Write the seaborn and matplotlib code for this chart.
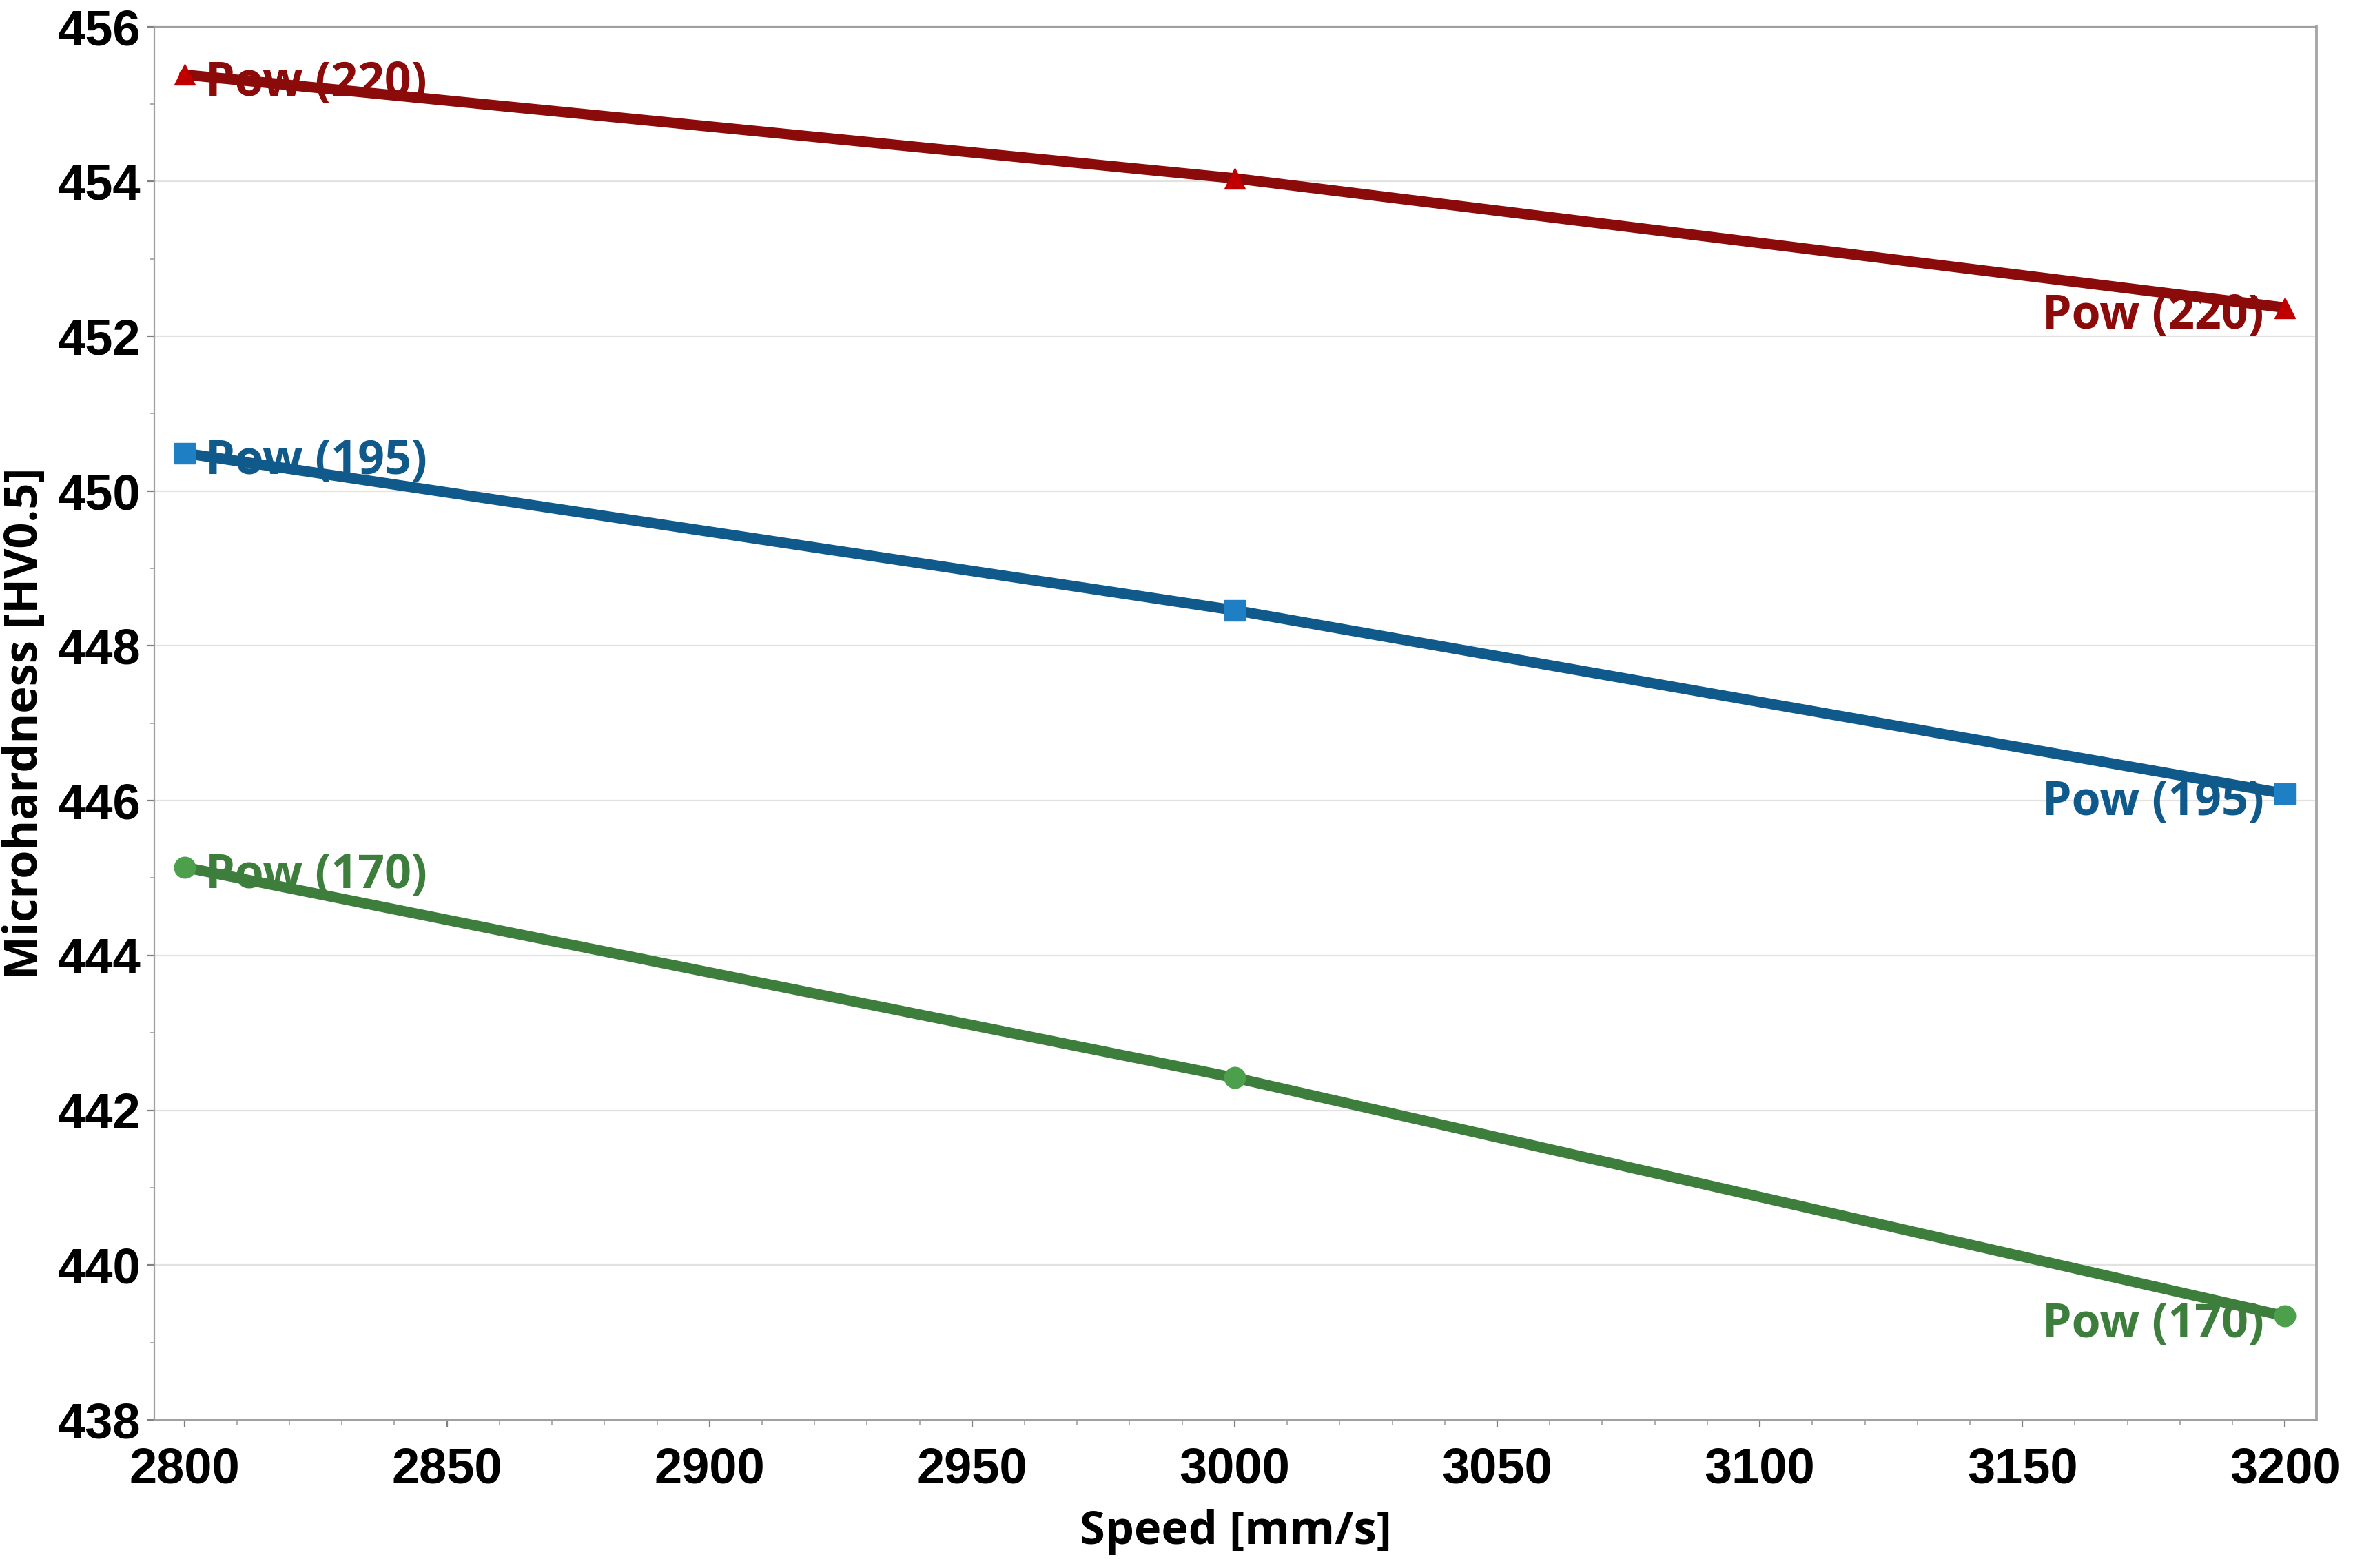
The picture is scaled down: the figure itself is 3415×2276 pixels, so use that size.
import pandas as pd
import numpy as np
import matplotlib
matplotlib.use("Agg")
import matplotlib.pyplot as plt
import seaborn as sns
from matplotlib.ticker import MultipleLocator

# data
speed = [2800, 3000, 3200]
pow_220 = [455.38, 454.04, 452.37]
pow_195 = [450.49, 448.46, 446.09]
pow_170 = [445.14, 442.42, 439.34]
series_names = ["Pow (220)", "Pow (195)", "Pow (170)"]

line_colors = ["#8B0A0A", "#0F5A8A", "#3E7E3C"]
marker_colors = ["#C00000", "#1F7FC4", "#4CA04C"]
marker_shapes = ["^", "s", "o"]

df = pd.DataFrame({
    "speed": speed * 3,
    "hardness": pow_220 + pow_195 + pow_170,
    "power": np.repeat(series_names, len(speed)),
})

sns.set_theme(style="white")
plt.rcParams["font.family"] = ["Liberation Sans", "DejaVu Sans"]
label_font = ["Open Sans", "DejaVu Sans"]

fig = plt.figure(figsize=(17.08, 11.38), dpi=200)
ax = fig.add_axes([0.0656, 0.0945, 0.9186, 0.8885])

for name, lc, mc, mk in zip(series_names, line_colors, marker_colors, marker_shapes):
    sub = df[df["power"] == name]
    sns.lineplot(data=sub, x="speed", y="hardness", color=lc, lw=5.5, marker=mk,
                 markersize=11, markerfacecolor=mc, markeredgecolor=mc,
                 markeredgewidth=0.5, ax=ax, zorder=3)
    x0, y0 = sub["speed"].iloc[0], sub["hardness"].iloc[0]
    x1, y1 = sub["speed"].iloc[-1], sub["hardness"].iloc[-1]
    ax.annotate(name, (x0, y0), xytext=(11, -4.5), textcoords="offset points",
                ha="left", va="center", color=lc, fontsize=24.5, fontweight="bold",
                family=label_font, zorder=4)
    ax.annotate(name, (x1, y1), xytext=(-11, -4.5), textcoords="offset points",
                ha="right", va="center", color=lc, fontsize=24.5, fontweight="bold",
                family=label_font, zorder=4)

ax.set_xlim(2794.3, 3206)
ax.set_ylim(438, 456)
ax.xaxis.set_major_locator(MultipleLocator(50))
ax.xaxis.set_minor_locator(MultipleLocator(10))
ax.yaxis.set_major_locator(MultipleLocator(2))
ax.yaxis.set_minor_locator(MultipleLocator(1))

ax.grid(True, axis="y", which="major", color="#E2E2E2", lw=0.8)
ax.grid(False, axis="x")

ax.tick_params(axis="both", which="major", length=4, width=0.8, color="#808080",
               labelsize=26, bottom=True, left=True)
ax.tick_params(axis="x", which="major", pad=10)
ax.tick_params(axis="y", which="major", pad=3)
ax.tick_params(axis="both", which="minor", length=2.5, width=0.6, color="#A0A0A0",
               bottom=True, left=True)
for lab in ax.get_xticklabels() + ax.get_yticklabels():
    lab.set_fontweight("bold")
    lab.set_color("black")

for side in ["left", "bottom", "top"]:
    ax.spines[side].set_color("#A0A0A0")
    ax.spines[side].set_linewidth(0.8)
ax.spines["right"].set_color("#A8A8A8")
ax.spines["right"].set_linewidth(1.4)

ax.set_xlabel("Speed [mm/s]", fontsize=24, fontweight="bold", color="black",
              family=label_font)
ax.set_ylabel("Microhardness [HV0.5]", fontsize=24, fontweight="bold", color="black",
              family=label_font)
ax.xaxis.set_label_coords(0.5, -0.064)
ax.yaxis.set_label_coords(-0.049, 0.5)

plt.savefig("out.png", dpi=200)
